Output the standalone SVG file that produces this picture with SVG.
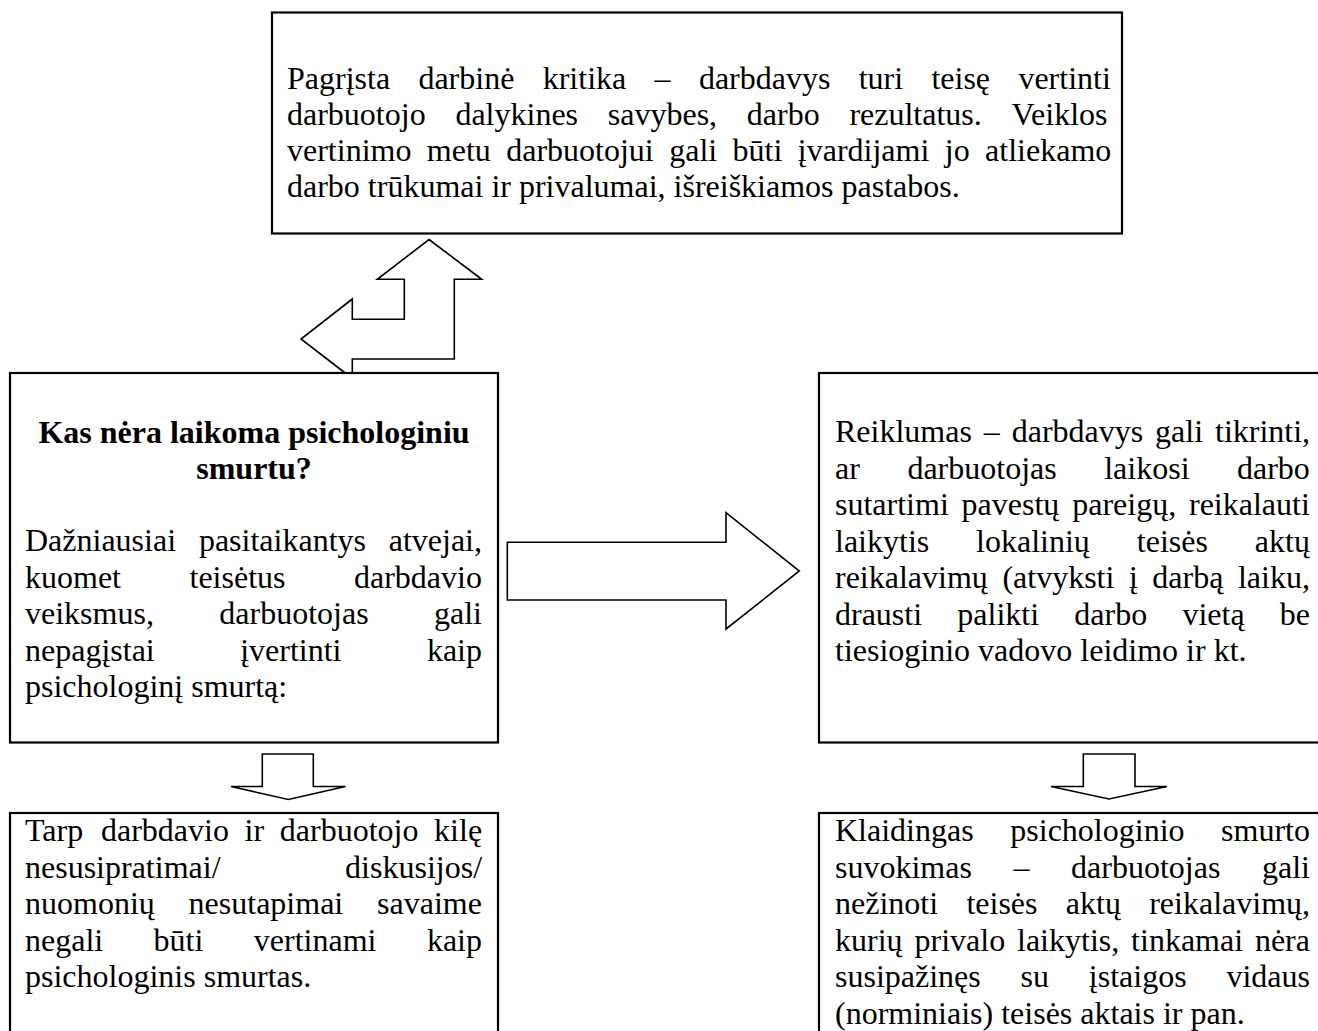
<svg xmlns="http://www.w3.org/2000/svg" width="1318" height="1031" viewBox="0 0 1318 1031">
<style>
.box{fill:#fff;stroke:#000;stroke-width:2.2}
.arr{fill:#fff;stroke:#000;stroke-width:1.6;stroke-linejoin:miter}
text{font-family:"Liberation Serif","Times New Roman",serif;font-size:32px;fill:#000}
.b{font-weight:bold}
</style>
<rect width="1318" height="1031" fill="#fff"/>
<g id="connectors">
<polygon class="arr" points="429,239.5 481.7,279.3 454.3,279.3 454.3,359 352.3,359 352.3,378.5 301,339 352.3,299 352.3,319.3 404.3,319.3 404.3,279.3 377.3,279.3"/>
<polygon class="arr" points="507.3,542.3 726,542.3 726,512.7 799.3,571 726,629 726,600 507.3,600"/>
<polygon class="arr" points="262.3,754 313.3,754 313.3,786.5 345.5,786.5 288.3,799.5 231,786.5 262.3,786.5"/>
<polygon class="arr" points="1083.3,754 1135,754 1135,786.5 1167,786.5 1109,799 1051,786.5 1083.3,786.5"/>
</g>
<g id="node-top">
<rect class="box" x="272" y="12.5" width="850" height="221"/>
<text y="89"><tspan x="287">Pagrįsta</tspan><tspan x="418.4">darbinė</tspan><tspan x="542.7">kritika</tspan><tspan x="654.6">–</tspan><tspan x="698.9">darbdavys</tspan><tspan x="858.7">turi</tspan><tspan x="931.4">teisę</tspan><tspan x="1018.4">vertinti</tspan></text>
<text y="125"><tspan x="287">darbuotojo</tspan><tspan x="455.4">dalykines</tspan><tspan x="607.8">savybes,</tspan><tspan x="746.8">darbo</tspan><tspan x="849.4">rezultatus.</tspan><tspan x="1011.5">Veiklos</tspan></text>
<text y="161"><tspan x="287">vertinimo</tspan><tspan x="426.8">metu</tspan><tspan x="506.2">darbuotojui</tspan><tspan x="669.2">gali</tspan><tspan x="732.6">būti</tspan><tspan x="797.8">įvardijami</tspan><tspan x="944.8">jo</tspan><tspan x="985.1">atliekamo</tspan></text>
<text x="287" y="197">darbo trūkumai ir privalumai, išreiškiamos pastabos.</text>
</g>
<g id="node-left">
<rect class="box" x="10" y="373" width="488" height="369.5"/>
<text class="b" x="254" y="443" text-anchor="middle">Kas nėra laikoma psichologiniu</text>
<text class="b" x="254" y="479" text-anchor="middle">smurtu?</text>
<text y="551"><tspan x="25">Dažniausiai</tspan><tspan x="198.9">pasitaikantys</tspan><tspan x="388.7">atvejai,</tspan></text>
<text y="587.5"><tspan x="25">kuomet</tspan><tspan x="189.5">teisėtus</tspan><tspan x="354">darbdavio</tspan></text>
<text y="624"><tspan x="25">veiksmus,</tspan><tspan x="219.3">darbuotojas</tspan><tspan x="434">gali</tspan></text>
<text y="660.5"><tspan x="25">nepagįstai</tspan><tspan x="240.2">įvertinti</tspan><tspan x="426.9">kaip</tspan></text>
<text x="25" y="697">psichologinį smurtą:</text>
</g>
<g id="node-right">
<rect class="box" x="819" y="373" width="520" height="369.5"/>
<text y="442"><tspan x="835">Reiklumas</tspan><tspan x="983.8">–</tspan><tspan x="1011.7">darbdavys</tspan><tspan x="1155.1">gali</tspan><tspan x="1215">tikrinti,</tspan></text>
<text y="478.5"><tspan x="835">ar</tspan><tspan x="907.4">darbuotojas</tspan><tspan x="1104.2">laikosi</tspan><tspan x="1237">darbo</tspan></text>
<text y="515"><tspan x="835">sutartimi</tspan><tspan x="961.6">pavestų</tspan><tspan x="1072.2">pareigų,</tspan><tspan x="1189">reikalauti</tspan></text>
<text y="551.5"><tspan x="835">laikytis</tspan><tspan x="976.1">lokalinių</tspan><tspan x="1136.8">teisės</tspan><tspan x="1254.8">aktų</tspan></text>
<text y="588"><tspan x="835">reikalavimų</tspan><tspan x="1002.4">(atvyksti</tspan><tspan x="1128.9">į</tspan><tspan x="1152.3">darbą</tspan><tspan x="1237.9">laiku,</tspan></text>
<text y="624.5"><tspan x="835">drausti</tspan><tspan x="957.3">palikti</tspan><tspan x="1074.3">darbo</tspan><tspan x="1182.4">vietą</tspan><tspan x="1279.8">be</tspan></text>
<text x="835" y="661">tiesioginio vadovo leidimo ir kt.</text>
</g>
<g id="node-bottom-left">
<rect class="box" x="10" y="813" width="488" height="240"/>
<text y="841"><tspan x="25">Tarp</tspan><tspan x="101">darbdavio</tspan><tspan x="244.6">ir</tspan><tspan x="279.8">darbuotojo</tspan><tspan x="434.1">kilę</tspan></text>
<text y="877.5"><tspan x="25">nesusipratimai/</tspan><tspan x="345.1">diskusijos/</tspan></text>
<text y="914"><tspan x="25">nuomonių</tspan><tspan x="188.6">nesutapimai</tspan><tspan x="377.1">savaime</tspan></text>
<text y="950.5"><tspan x="25">negali</tspan><tspan x="153.6">būti</tspan><tspan x="253.8">vertinami</tspan><tspan x="426.9">kaip</tspan></text>
<text x="25" y="987">psichologinis smurtas.</text>
</g>
<g id="node-bottom-right">
<rect class="box" x="819" y="813" width="520" height="240"/>
<text y="841"><tspan x="835">Klaidingas</tspan><tspan x="1010.3">psichologinio</tspan><tspan x="1221.1">smurto</tspan></text>
<text y="877.5"><tspan x="835">suvokimas</tspan><tspan x="1013.5">–</tspan><tspan x="1071.1">darbuotojas</tspan><tspan x="1262">gali</tspan></text>
<text y="914"><tspan x="835">nežinoti</tspan><tspan x="966.4">teisės</tspan><tspan x="1065.8">aktų</tspan><tspan x="1149.2">reikalavimų,</tspan></text>
<text y="950.5"><tspan x="835">kurių</tspan><tspan x="914.5">privalo</tspan><tspan x="1017">laikytis,</tspan><tspan x="1131.1">tinkamai</tspan><tspan x="1254.9">nėra</tspan></text>
<text y="987"><tspan x="835">susipažinęs</tspan><tspan x="1020.6">su</tspan><tspan x="1088.8">įstaigos</tspan><tspan x="1226.4">vidaus</tspan></text>
<text x="835" y="1023.5">(norminiais) teisės aktais ir pan.</text>
</g>
</svg>
